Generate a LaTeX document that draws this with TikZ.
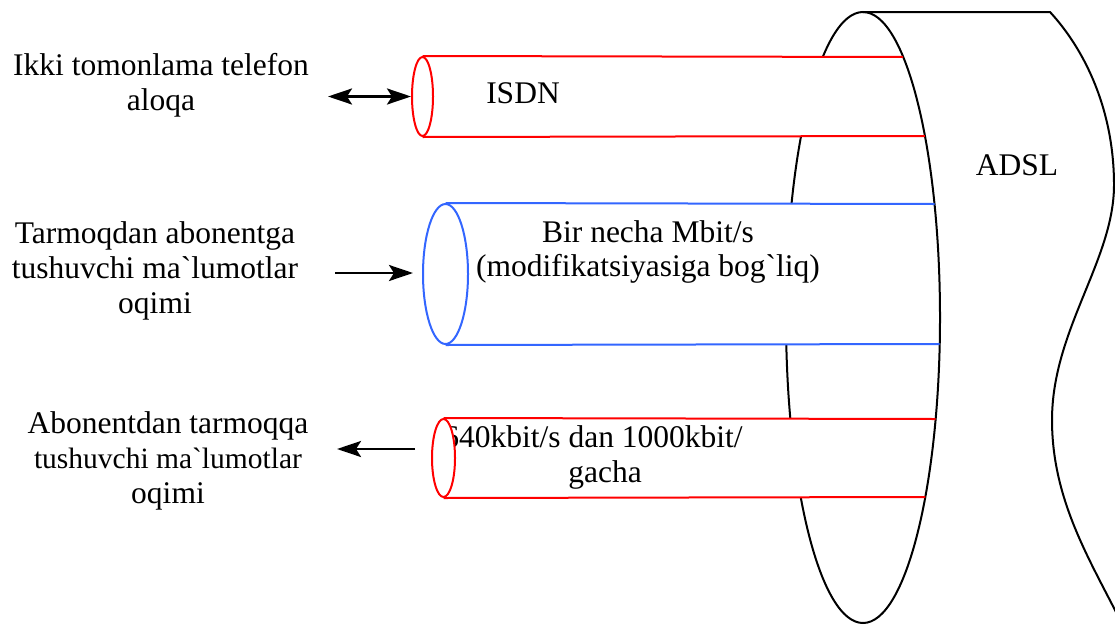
\documentclass[tikz,border=0pt]{standalone}
\usepackage{fontspec}
\newfontfamily\tnr{Liberation Serif}
\usetikzlibrary{arrows.meta,shapes.geometric}
\definecolor{blu}{RGB}{51,102,255}
\definecolor{rd}{RGB}{255,0,0}
\newcommand{\ex}[1]{863+77*sqrt(1-((#1-317.5)/305.5)^2)}
\tikzset{
  body/.style={draw=black, line width=2pt},
  lbl/.style={font=\tnr\fontsize{31.5}{35}\selectfont, align=center, inner sep=0pt},
  redl/.style={draw=rd, line width=2pt},
  blul/.style={draw=blu, line width=2pt},
  endc/.style={ellipse, fill=white, line width=2pt, inner sep=0pt},
  tipS/.tip={Stealth[length=24pt,width=16pt,inset=5pt]},
  arr/.style={line width=2.7pt, -tipS},
  dblarr/.style={line width=2.7pt, tipS-tipS},
}
\begin{document}
\begin{tikzpicture}[x=1pt,y=-1pt]
\useasboundingbox (0,0) rectangle (1115,624);
% ADSL body
\draw[body] (863,317.5) ellipse [x radius=77, y radius=305.5];
\draw[body] (863,12) -- (1050,12) .. controls (1085,50) and (1114,110) .. (1114,185)
  .. controls (1114,260) and (1052,330) .. (1052,420)
  .. controls (1052,500) and (1090,560) .. (1120,620);
% hide the near side of the ellipse behind the tubes
\fill[white] (423,57) rectangle (870,136);
\fill[white] (446,204) rectangle (870,344);
\fill[white] (443,419) rectangle (870,497);
% texts inside tubes (base anchor = last line's baseline)
\node[lbl,anchor=base] (isdn) at (523,103) {ISDN};
\node[lbl,anchor=base,font=\tnr\fontsize{31.5}{34}\selectfont] (mid) at (648,276) {Bir necha Mbit/s\\(modifikatsiyasiga bog`liq)};
\node[lbl,anchor=base] (low) at (593,482) {640kbit/s dan 1000kbit/\\\hspace*{24pt}gacha};
\node[lbl,anchor=base] (adsl) at (1017,175) {ADSL};
% tube ends
\node[endc,draw=rd,minimum width=21pt,minimum height=79pt] (c1) at (422.5,96.5) {};
\node[endc,draw=blu,minimum width=45pt,minimum height=140pt] (c2) at (445.5,274) {};
\node[endc,draw=rd,minimum width=23pt,minimum height=78pt] (c3) at (443.5,458) {};
% tube sides
\draw[redl] (c1.north) -- ({\ex{57}},57);
\draw[redl] (c1.south) -- ({\ex{136}},136);
\draw[blul] (c2.north) -- ({\ex{204}},204);
\draw[blul] (c2.south) -- ({\ex{344}},344);
\draw[redl] (c3.north) -- ({\ex{419}},419);
\draw[redl] (c3.south) -- ({\ex{497}},497);
% left labels
\node[lbl,anchor=base] (t1) at (161,110) {Ikki tomonlama telefon\\aloqa};
\node[lbl,anchor=base] (t2) at (155,313) {Tarmoqdan abonentga\\tushuvchi ma`lumotlar\\oqimi};
\node[lbl,anchor=base] (t3) at (168,503) {Abonentdan tarmoqqa\\{\fontsize{29.5}{35}\selectfont tushuvchi ma`lumotlar}\\oqimi};
% arrows
\coordinate (a1) at (328,96.5);
\coordinate (a2s) at (335,273);
\coordinate (a2e) at (413,273);
\coordinate (a3s) at (415,449);
\coordinate (a3e) at (337,449);
\draw[dblarr] (a1) -- (c1.west);
\draw[arr] (a2s) -- (a2e);
\draw[arr] (a3s) -- (a3e);
\end{tikzpicture}
\end{document}
